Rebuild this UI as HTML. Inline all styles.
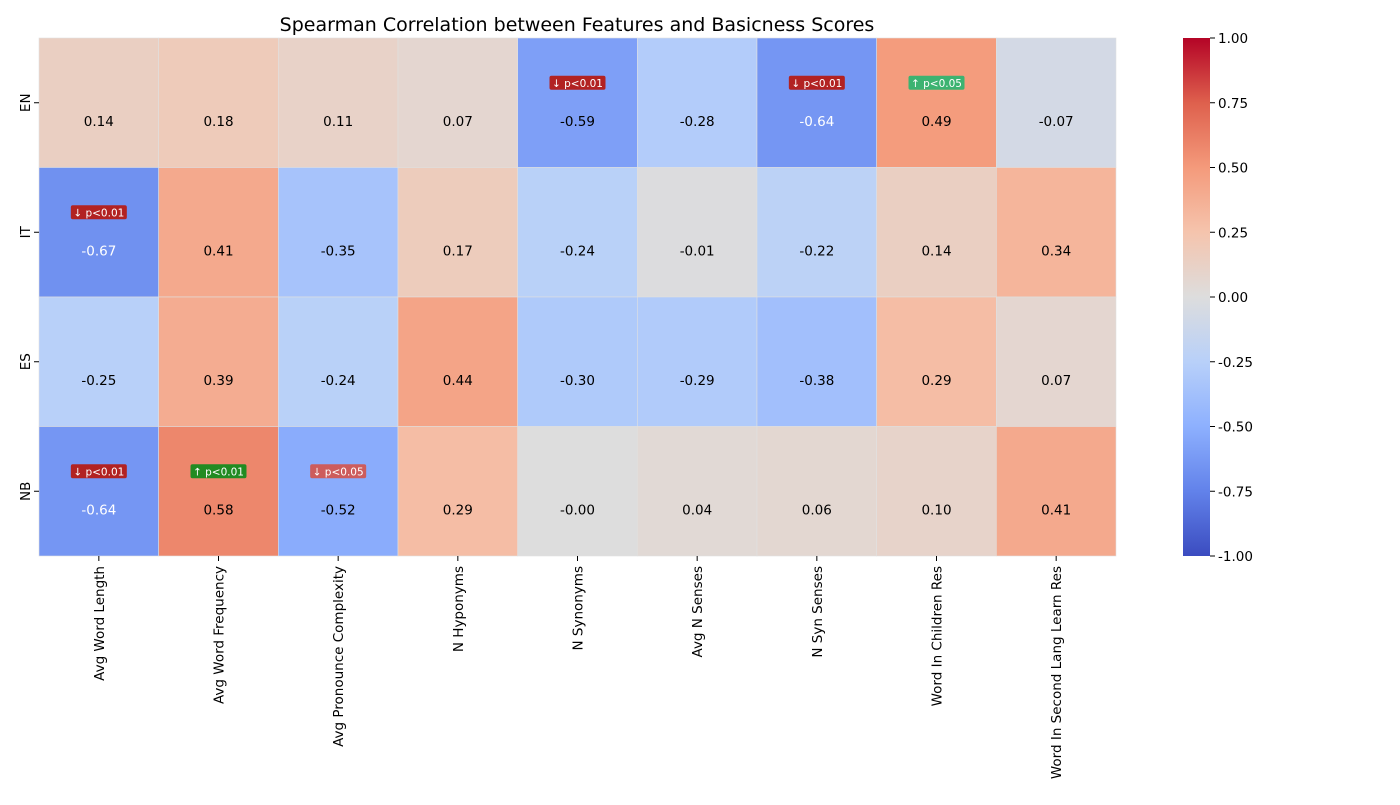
<!DOCTYPE html>
<html><head><meta charset="utf-8"><style>
body{margin:0;background:#fff;font-family:"Liberation Sans","DejaVu Sans",sans-serif;}
</style></head><body>
<svg id="chart" width="1400" height="800" xmlns="http://www.w3.org/2000/svg" font-family="DejaVu Sans, Liberation Sans, sans-serif">
<text x="577" y="31" font-size="19" text-anchor="middle">Spearman Correlation between Features and Basicness Scores</text>
<g id="cells"></g><g id="xlabels"></g><g id="ylabels"></g>
<defs><linearGradient id="cbgrad" x1="0" y1="1" x2="0" y2="0"></linearGradient></defs>
<rect x="1183" y="38" width="27" height="518" fill="url(#cbgrad)"/>
<g id="cbticks"></g>
</svg>
<script>
const rowsLabels=["EN","IT","ES","NB"];
const colLabels=["Avg Word Length","Avg Word Frequency","Avg Pronounce Complexity","N Hyponyms","N Synonyms","Avg N Senses","N Syn Senses","Word In Children Res","Word In Second Lang Learn Res"];
const valuesEN=[0.14,0.18,0.11,0.07,-0.59,-0.28,-0.64,0.49,-0.07];
const valuesIT=[-0.67,0.41,-0.35,0.17,-0.24,-0.01,-0.22,0.14,0.34];
const valuesES=[-0.25,0.39,-0.24,0.44,-0.30,-0.29,-0.38,0.29,0.07];
const valuesNB=[-0.64,0.58,-0.52,0.29,-0.001,0.04,0.06,0.10,0.41];
const badges=[[0,4,"↓ p<0.01","#b22222"],[0,6,"↓ p<0.01","#b22222"],[0,7,"↑ p<0.05","#3cb371"],[1,0,"↓ p<0.01","#b22222"],[3,0,"↓ p<0.01","#b22222"],[3,1,"↑ p<0.01","#228b22"],[3,2,"↓ p<0.05","#cd5c5c"]];
const cbTicks=[1,0.75,0.5,0.25,0,-0.25,-0.5,-0.75,-1];
const matrix=[valuesEN,valuesIT,valuesES,valuesNB];
const NS="http://www.w3.org/2000/svg";
const X0=39,X1=1116,Y0=38,Y1=556;
const cw=(X1-X0)/colLabels.length, rh=(Y1-Y0)/rowsLabels.length;
const xs=i=>X0+i*cw, ys=j=>Y0+j*rh, cy=v=>Y0+(1-v)/2*(Y1-Y0);
const stops=[[59,76,192],[98,130,234],[141,176,254],[184,208,249],[221,221,221],[245,196,173],[244,154,123],[222,96,77],[180,4,38]];
function cmap(v){let t=(v+1)/2*8;let i=Math.min(7,Math.max(0,Math.floor(t)));let f=t-i;const a=stops[i],b=stops[i+1];return `rgb(${a.map((c,k)=>Math.round(c+(b[k]-c)*f)).join(',')})`;}
function fmt(v){const s=Math.abs(v).toFixed(2);return (v<0?'-':'')+s;}
function mk(tag,attrs,parent,txt){const e=document.createElementNS(NS,tag);for(const k in attrs)e.setAttribute(k,attrs[k]);if(txt!==undefined)e.textContent=txt;parent.appendChild(e);return e;}
const g=document.getElementById('cells');
matrix.forEach((row,j)=>row.forEach((v,i)=>{
 const r=mk('rect',{x:xs(i),y:ys(j),width:cw,height:rh,fill:cmap(v),stroke:'#e0e0e0','stroke-width':0.6},g);
 
 
 const t=mk('text',{x:xs(i)+cw/2,y:ys(j)+rh/2+23,'font-size':13.5,'text-anchor':'middle',fill:Math.abs(v)>0.6?'#fff':'#000'},g,fmt(v));
 
 
}));
badges.forEach(b=>{
 const [j,i,txt,col]=b;const cx=xs(i)+cw/2,yy=ys(j)+rh/2-20;
 const r=mk('rect',{x:cx-28,y:yy-7,width:56,height:14,rx:2,fill:col},g);
 
 
 const t=mk('text',{x:cx,y:yy+4,'font-size':10.5,'text-anchor':'middle',fill:'#fff'},g,txt);
 
 
});
const xl=document.getElementById('xlabels');
colLabels.forEach((c,i)=>{const x=xs(i)+cw/2;
 mk('line',{x1:x,x2:x,y1:Y1,y2:Y1+5,stroke:'#000'},xl);
 const t=mk('text',{x:0,y:0,transform:`translate(${x+5},${Y1+10}) rotate(-90)`,'font-size':13.5,'text-anchor':'end'},xl,c);
 
 
});
const yl=document.getElementById('ylabels');
rowsLabels.forEach((r,j)=>{const y=ys(j)+rh/2;
 mk('line',{x1:X0-5,x2:X0,y1:y,y2:y,stroke:'#000'},yl);
 const t=mk('text',{x:0,y:0,transform:`translate(${X0-9},${y}) rotate(-90)`,'font-size':13.5,'text-anchor':'middle'},yl,r);
 
 
});
const gr=document.getElementById('cbgrad');
stops.forEach((s,k)=>mk('stop',{offset:(k/8*100)+'%','stop-color':`rgb(${s.join(',')})`},gr));
const cb=document.getElementById('cbticks');
cbTicks.forEach(v=>{const y=cy(v);
 mk('line',{x1:1210,x2:1215,y1:y,y2:y,stroke:'#000'},cb);
 const t=mk('text',{x:1218,y:y+5,'font-size':13.5},cb,v.toFixed(2));
 
 
});
</script>
</body></html>
